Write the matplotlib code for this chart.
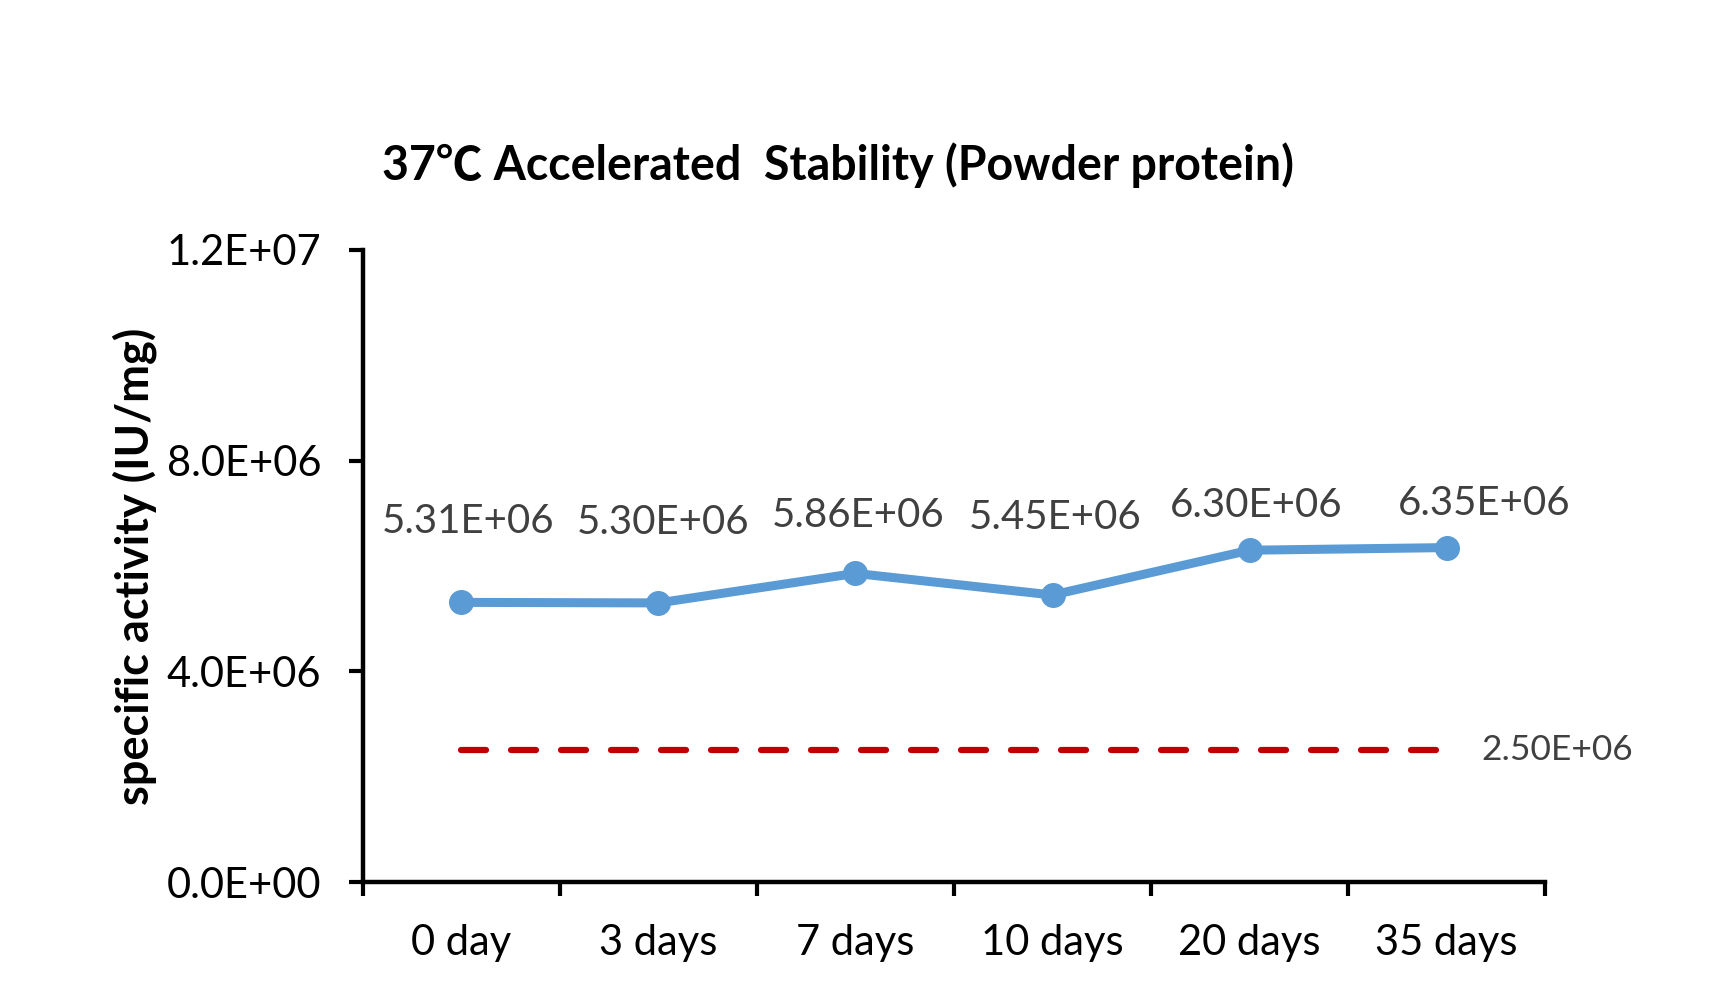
import numpy as np
import matplotlib.pyplot as plt

# chart data
days = ["0 day", "3 days", "7 days", "10 days", "20 days", "35 days"]
activity = [5.31e6, 5.30e6, 5.86e6, 5.45e6, 6.30e6, 6.35e6]
threshold = 2.5e6
y_ticks = [0, 4e6, 8e6, 1.2e7]

blue = "#5B9BD5"
red = "#C00000"
grey = "#404040"

plt.rcParams['font.family'] = ['Lato', 'DejaVu Sans']

fig = plt.figure(figsize=(17.25, 9.9), dpi=100)
ax = fig.add_axes([0.2104, 0.109, 0.6853, 0.6385])

x = np.arange(len(days))
ax.plot(x, activity, color=blue, lw=6.5, marker="o", ms=17,
        solid_capstyle="round", zorder=3)

ax.plot([x[0], x[-1]], [threshold, threshold], color=red, lw=4.5,
        dashes=(4, 4), dash_capstyle="round")
ax.annotate(f"{threshold:.2E}", (x[-1], threshold), xytext=(25, 0),
            textcoords="offset points", va="center", ha="left",
            fontsize=25.5, color=grey)

# data labels (Excel nudges some of them)
dx = [5, 3, 2, 2, 5, 27]
dy = [58, 58, 42, 56, 32, 32]
for i, v in enumerate(activity):
    ax.annotate(f"{v:.2E}", (x[i], v), xytext=(dx[i], dy[i]),
                textcoords="offset points", ha="center", va="center",
                fontsize=29, color=grey)

ax.set_xlim(-0.5, len(days) - 0.5)
ax.set_ylim(0, 1.2e7)
ax.set_yticks(y_ticks)
ax.set_yticklabels([f"{t:.1E}" for t in y_ticks], fontsize=30)

ax.set_xticks(np.arange(-0.5, len(days)), labels=[])
ax.set_xticks(x, minor=True)
ax.set_xticklabels(days, minor=True, fontsize=30)
ax.tick_params(axis="x", which="minor", length=0, pad=30)
ax.tick_params(axis="x", which="major", length=10, width=3, direction="out")
ax.tick_params(axis="y", length=10, width=3, direction="out", pad=20)

for s in ["top", "right"]:
    ax.spines[s].set_visible(False)
for s in ["left", "bottom"]:
    ax.spines[s].set_linewidth(3.2)

fig.text(0.486, 0.833, "37\u2103 Accelerated  Stability (Powder protein)",
         ha="center", va="center", fontsize=33.5, fontweight="bold",
         family=['Lato', 'Noto Sans CJK SC', 'DejaVu Sans'])
fig.text(0.078, 0.428, "specific activity (IU/mg)", rotation=90,
         ha="center", va="center", fontsize=32.5, fontweight="bold")

fig.savefig("out.png", dpi=100)
